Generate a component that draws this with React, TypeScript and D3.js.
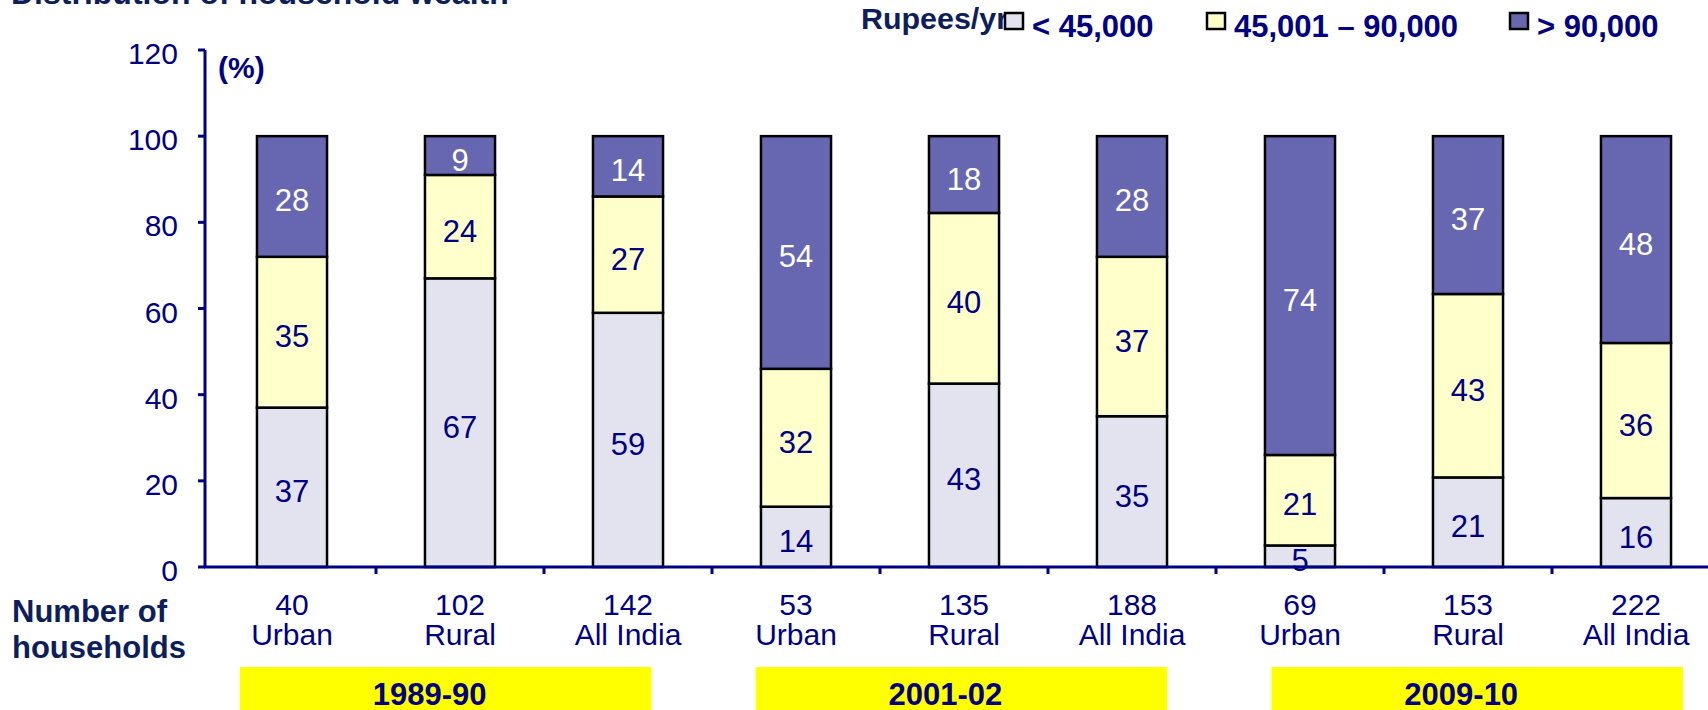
import React from "react";
import * as d3 from "d3";

const categories = ["Urban", "Rural", "All India", "Urban", "Rural", "All India", "Urban", "Rural", "All India"];
const households = [40, 102, 142, 53, 135, 188, 69, 153, 222];
const periods = ["1989-90", "2001-02", "2009-10"];
const lowIncome = [37, 67, 59, 14, 43, 35, 5, 21, 16];
const midIncome = [35, 24, 27, 32, 40, 37, 21, 43, 36];
const highIncome = [28, 9, 14, 54, 18, 28, 74, 37, 48];
const seriesNames = ["< 45,000", "45,001 \u2013 90,000", "> 90,000"];
const yTicks = [0, 20, 40, 60, 80, 100, 120];

const W = 1708;
const H = 710;
const FONT = "'Liberation Sans', Arial, Helvetica, sans-serif";
const NAVY = "#000080";
const DARK = "#0D1E5A";
const COLORS = ["#E3E3EF", "#FFFFCC", "#6767B1"];

export default function App() {
  if (typeof document !== "undefined") document.body.style.margin = "0";
  const idx = categories.map((_, i) => i);
  const x = d3.scaleBand<number>().domain(idx).range([208, 1720]).padding(0);
  const step = x.step();
  const barW = step * 0.417;
  const y = d3.scaleLinear().domain([0, 120]).range([567, 50]);

  const rows = idx.map((i) => {
    const vals = [lowIncome[i], midIncome[i], highIncome[i]];
    const sum = d3.sum(vals);
    return { i, s0: (vals[0] / sum) * 100, s1: (vals[1] / sum) * 100, s2: (vals[2] / sum) * 100, vals };
  });
  const stack = d3.stack<any>().keys(["s0", "s1", "s2"]);
  const stacked = stack(rows);

  const boxShift = [0.19, 0.26, 0.33];
  const boxW = step * 2.45;
  const legendX = [1005, 1207, 1510];

  return (
    <svg width={W} height={H} style={{ position: "absolute", left: 0, top: 0, background: "#fff" }} fontFamily={FONT}>
      {/* title (clipped at top) */}
      <text x={11} y={4} fontSize={32} fontWeight="bold" fill={DARK}>
        Distribution of household wealth
      </text>

      {/* legend */}
      <text x={861} y={29} fontSize={30} fontWeight="bold" fill={DARK} textLength={147} lengthAdjust="spacingAndGlyphs">
        Rupees/yr
      </text>
      {seriesNames.map((n, k) => {
        const sx = legendX[k];
        return (
          <g key={n}>
            <rect x={sx} y={13} width={18} height={16} fill={COLORS[k]} stroke="#000" strokeWidth={2.5} />
            <text x={sx + 27} y={37} fontSize={31} fontWeight="bold" fill={NAVY}>
              {n}
            </text>
          </g>
        );
      })}

      {/* y axis */}
      <line x1={205} x2={205} y1={y(120)} y2={y(0)} stroke={NAVY} strokeWidth={3} />
      {yTicks.map((t) => (
        <g key={t}>
          <line x1={198} x2={205} y1={y(t)} y2={y(t)} stroke={NAVY} strokeWidth={3} />
          <text x={178} y={y(t) + 14} fontSize={30} fill={NAVY} textAnchor="end">
            {t}
          </text>
        </g>
      ))}
      <text x={218} y={78} fontSize={30} fontWeight="bold" fill={NAVY}>
        (%)
      </text>

      {/* bars */}
      {stacked.map((layer, k) => (
        <g key={k}>
          {layer.map((d, j) => {
            const cx = (x(j) as number) + step / 2;
            const top = y(d[1]);
            const bot = y(d[0]);
            return (
              <rect
                key={j}
                x={cx - barW / 2}
                y={top}
                width={barW}
                height={bot - top}
                fill={COLORS[k]}
                stroke="#000"
                strokeWidth={2.5}
              />
            );
          })}
        </g>
      ))}
      {stacked.map((layer, k) => (
        <g key={"l" + k}>
          {layer.map((d, j) => {
            const cx = (x(j) as number) + step / 2;
            const mid = (y(d[0]) + y(d[1])) / 2;
            return (
              <text key={j} x={cx} y={mid + 15} fontSize={31} textAnchor="middle" fill={k === 2 ? "#fff" : NAVY}>
                {rows[j].vals[k]}
              </text>
            );
          })}
        </g>
      ))}

      {/* x axis */}
      <line x1={204} x2={1720} y1={y(0)} y2={y(0)} stroke={NAVY} strokeWidth={3} />
      {idx.slice(1).map((i) => (
        <line key={i} x1={x(i) as number} x2={x(i) as number} y1={y(0)} y2={y(0) + 7} stroke={NAVY} strokeWidth={3} />
      ))}

      {/* category labels */}
      {idx.map((i) => {
        const cx = (x(i) as number) + step / 2;
        return (
          <g key={i}>
            <text x={cx} y={615} fontSize={30} textAnchor="middle" fill={NAVY}>
              {households[i]}
            </text>
            <text x={cx} y={645} fontSize={30} textAnchor="middle" fill={NAVY}>
              {categories[i]}
            </text>
          </g>
        );
      })}
      <text x={12} y={622} fontSize={31} fontWeight="bold" fill={DARK}>
        Number of
      </text>
      <text x={12} y={658} fontSize={31} fontWeight="bold" fill={DARK}>
        households
      </text>

      {/* period boxes */}
      {periods.map((p, g) => {
        const left = (x(g * 3) as number) + step * boxShift[g];
        return (
          <g key={p}>
            <rect x={left} y={667} width={boxW} height={60} fill="#FFFF00" />
            <text x={left + boxW / 2 - 16} y={705} fontSize={31} fontWeight="bold" textAnchor="middle" fill={NAVY}>
              {p}
            </text>
          </g>
        );
      })}
    </svg>
  );
}
